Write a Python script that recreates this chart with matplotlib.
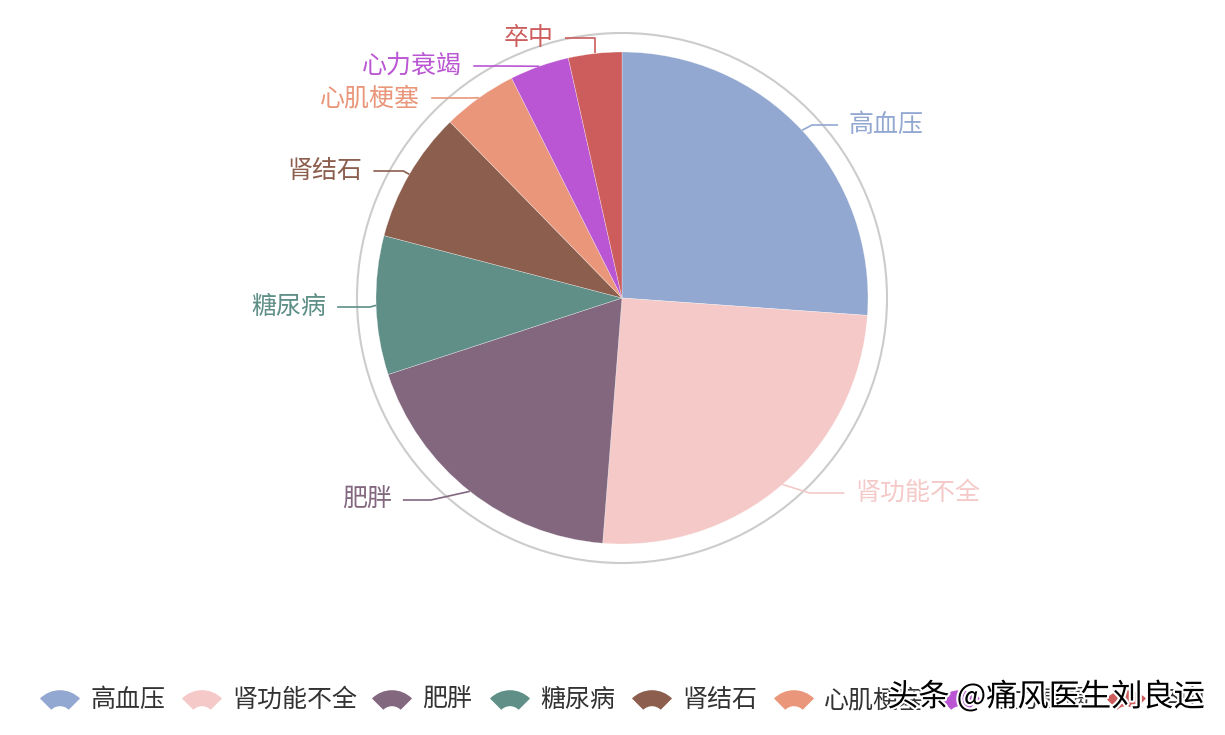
import numpy as np
import matplotlib
matplotlib.use("Agg")
import matplotlib.pyplot as plt
from matplotlib.patches import Circle, Wedge
import matplotlib.patheffects as pe

plt.rcParams['font.family'] = ['Noto Sans CJK SC', 'DejaVu Sans']

# 数据
LABELS = ["高血压", "肾功能不全", "肥胖", "糖尿病", "肾结石", "心肌梗塞", "心力衰竭", "卒中"]
VALUES = [26.1, 25.1, 18.7, 9.1, 8.6, 4.9, 3.9, 3.5]
COLORS = ["#92A8D1", "#F4C9C8", "#82677E", "#5F8F87", "#8B5E4D", "#E9967A", "#BA55D3", "#CD5C5C"]

# 标签布局 (像素): 标签中心 y, 拐点水平偏移, 水平线长度
LABEL_Y = [125, 493, 500, 307, 171, 98, 66, 38]
ELBOW_DX = [10, 27, -39, -6, -6, -8, -38, 0]
SEG2 = [26, 35, 28, 33, 30, 40, 28, 30]

W, H = 1225, 735
CX, CY, R = 622, 298, 246  # 饼图中心和半径 (像素)
FS = 18


def px(x, y):
    # 像素坐标 -> 数据坐标 (半径 = 1)
    return (x - CX) / R, (CY - y) / R


fig = plt.figure(figsize=(W / 100, H / 100), dpi=100)
ax = fig.add_axes([0, 0, 1, 1])

wedges, _ = ax.pie(VALUES, colors=COLORS, startangle=90, counterclock=False,
                   radius=1, center=(0, 0), frame=True,
                   wedgeprops=dict(linewidth=0.4, edgecolor=(1, 1, 1, 0.5)))
ax.set_xlim(-CX / R, (W - CX) / R)
ax.set_ylim(-(H - CY) / R, CY / R)
ax.set_aspect("auto")
ax.axis("off")

# 外圈
ax.add_patch(Circle((0, 0), 265 / R, fill=False, edgecolor="#cccccc", linewidth=1.5))

# 引导线和标签
for i, w in enumerate(wedges):
    ang = np.deg2rad((w.theta1 + w.theta2) / 2)
    ex, ey = np.cos(ang), np.sin(ang)
    side = 1 if ex >= 0 else -1
    _, ly = px(0, LABEL_Y[i])
    bx = ex + ELBOW_DX[i] / R
    cx2 = bx + side * SEG2[i] / R
    ax.plot([ex, bx, cx2], [ey, ly, ly], color=COLORS[i], linewidth=1.2,
            solid_capstyle="butt")
    ax.text(cx2 + side * 11 / R, ly, LABELS[i], color=COLORS[i], fontsize=FS,
            ha="left" if side > 0 else "right", va="center")

# 图例 (居中于饼图中心)
ICON_W, GAP_TXT, GAP_ITEM, CHAR_W = 40, 10, 20, 24
widths = [ICON_W + GAP_TXT + len(lab) * CHAR_W for lab in LABELS]
total = sum(widths) + GAP_ITEM * (len(LABELS) - 1)
x0 = CX - total / 2
legend_y = 700
for i, lab in enumerate(LABELS):
    icx = x0 + ICON_W / 2
    rr = 28.3
    cxd, cyd = px(icx, legend_y + 18.5)
    ax.add_patch(Wedge((cxd, cyd), rr / R, 45, 135, width=16 / R,
                       facecolor=COLORS[i], edgecolor="none"))
    tx, ty = px(x0 + ICON_W + GAP_TXT, legend_y)
    ax.text(tx, ty, lab, color="#333333", fontsize=FS, ha="left", va="center")
    x0 += widths[i] + GAP_ITEM

# 水印
wx, wy = px(1046, 697)
ax.text(wx, wy, "头条 @痛风医生刘良运", color="black", fontsize=22.5,
        ha="center", va="center", fontweight="medium",
        path_effects=[pe.withStroke(linewidth=3, foreground="white")])

fig.savefig("out.png", dpi=100)
